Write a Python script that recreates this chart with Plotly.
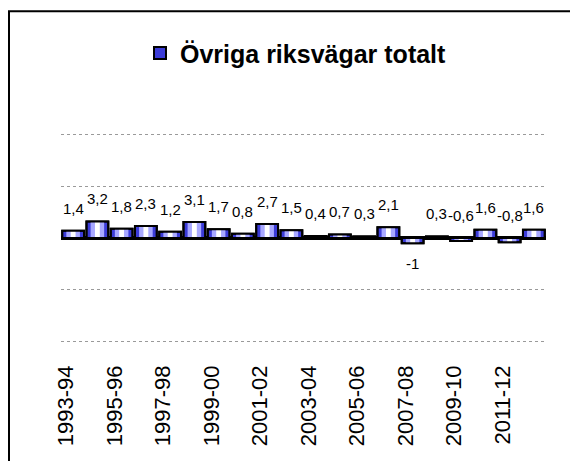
import plotly.graph_objects as go

categories = ["1993-94", "1994-95", "1995-96", "1996-97", "1997-98", "1998-99",
              "1999-00", "2000-01", "2001-02", "2002-03", "2003-04", "2004-05",
              "2005-06", "2006-07", "2007-08", "2008-09", "2009-10", "2010-11",
              "2011-12", "2012-13"]
values = [1.4, 3.2, 1.8, 2.3, 1.2, 3.1, 1.7, 0.8, 2.7, 1.5,
          0.4, 0.7, 0.3, 2.1, -1.0, 0.3, -0.6, 1.6, -0.8, 1.6]
tick_labels = ["1993-94", "1995-96", "1997-98", "1999-00", "2001-02",
               "2003-04", "2005-06", "2007-08", "2009-10", "2011-12"]
series_name = "Övriga riksvägar totalt"

# page body has an 8px margin, so the figure is drawn 8px in from the corner
W, H = 570, 453
L, R, T, B = 53, 32, 124.4, 117.4
pw, ph = W - L - R, H - T - B

fig = go.Figure()
fig.add_bar(x=categories, y=values, width=0.9, name=series_name,
            marker=dict(color="#3c3cd8", line=dict(color="black", width=2)),
            hoverinfo="skip")
fig.add_bar(x=categories, y=values, width=0.56, showlegend=False,
            marker=dict(color="#a8a8ff", line=dict(width=0)), hoverinfo="skip")
fig.add_bar(x=categories, y=values, width=0.2, showlegend=False,
            marker=dict(color="white", line=dict(width=0)), hoverinfo="skip")
fig.add_bar(x=categories, y=values, width=0.9, showlegend=False,
            marker=dict(color="rgba(0,0,0,0)", line=dict(color="black", width=2)),
            hoverinfo="skip")

annotations = []
for c, v in zip(categories, values):
    txt = f"{v:g}".replace(".", ",")
    below = v <= -1
    annotations.append(dict(
        x=c, y=(v if below else max(v, 0)), xref="x", yref="y",
        text=txt, showarrow=False,
        yanchor=("top" if below else "bottom"),
        yshift=(-10 if below else 12),
        font=dict(family="Arial, Liberation Sans", size=15, color="black")))

def px_x(x):
    return (x - L) / pw

def px_y(y):
    return (T + ph - y) / ph

fig.update_layout(
    width=W, height=H,
    margin=dict(l=L, r=R, t=T, b=B, pad=0),
    paper_bgcolor="white", plot_bgcolor="white",
    barmode="overlay",
    showlegend=True,
    legend=dict(x=px_x(132), xanchor="left",
                y=px_y(46), yanchor="middle",
                font=dict(family="Arial, Liberation Sans", size=25, color="black",
                          weight="bold"),
                bgcolor="rgba(0,0,0,0)", itemwidth=30),
    annotations=annotations,
    shapes=[dict(type="rect", xref="paper", yref="paper",
                 x0=px_x(1), x1=px_x(640),
                 y0=px_y(560), y1=px_y(4),
                 line=dict(color="black", width=2), fillcolor="rgba(0,0,0,0)")],
    xaxis=dict(type="category", range=[-0.5, len(categories) - 0.5],
               tickmode="array", tickvals=tick_labels, ticktext=tick_labels,
               tickangle=-90, showgrid=False, zeroline=False, showline=False,
               ticks="", ticklabelstandoff=16, ticklabelshift=-7,
               tickfont=dict(family="Arial, Liberation Sans", size=22, color="black")),
    yaxis=dict(range=[-20.5, 20.5], tickmode="array", tickvals=[-20, -10, 0, 10, 20],
               showticklabels=False,
               showgrid=True, gridcolor="#9a9a9a", griddash="dot", gridwidth=1,
               zeroline=True, zerolinecolor="black", zerolinewidth=3.5,
               showline=False, ticks=""),
)

fig.write_html("out.html")
